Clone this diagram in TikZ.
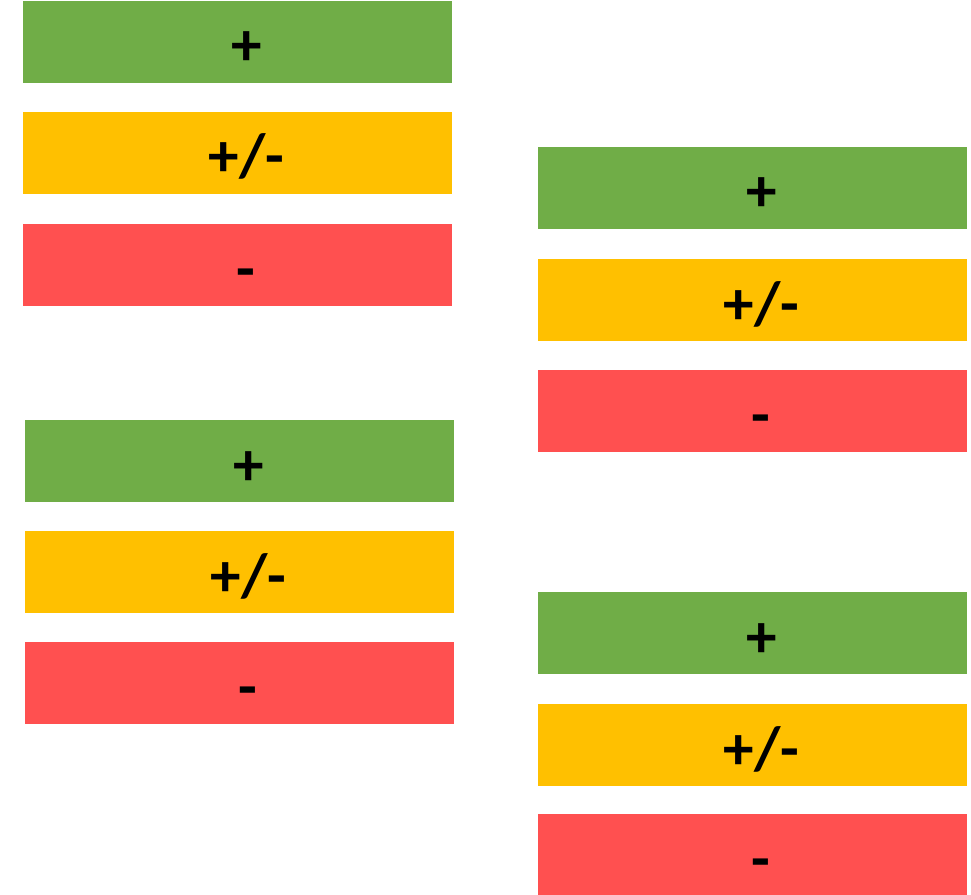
\documentclass[tikz,border=0pt]{standalone}
\usepackage{fontspec}
\setmainfont{Carlito}
\usepackage{tikz}
\usetikzlibrary{positioning}
\definecolor{goodgreen}{HTML}{70AD47}
\definecolor{midyellow}{HTML}{FFC000}
\definecolor{badred}{HTML}{FF5050}
\tikzset{
  bar/.style = {rectangle, inner sep=0pt, minimum width=10.725cm,
    minimum height=2.05cm},
  bar_g/.style = {bar, fill=goodgreen},% plus
  bar_y/.style = {bar, fill=midyellow},% plus/minus
  bar_r/.style = {bar, fill=badred},% minus
  sign/.style = {anchor=base, inner sep=0pt,
    font=\fontsize{43.5}{52}\selectfont\bfseries}
}

\begin{document}
\begin{tikzpicture}
\useasboundingbox (0,0) rectangle (24.275,-22.375);

% top left
\node [bar_g] (g1) at (5.9375,-1.05) {};
\node [bar_y] (y1) at (5.9375,-3.825) {};
\node [bar_r] (r1) at (5.9375,-6.625) {};
% top right
\node [bar_g] (g2) at (18.8125,-4.7) {};
\node [bar_y] (y2) at (18.8125,-7.5) {};
\node [bar_r] (r2) at (18.8125,-10.275) {};
% bottom left
\node [bar_g] (g3) at (5.9875,-11.525) {};
\node [bar_y] (y3) at (5.9875,-14.3) {};
\node [bar_r] (r3) at (5.9875,-17.075) {};
% bottom right
\node [bar_g] (g4) at (18.8125,-15.825) {};
\node [bar_y] (y4) at (18.8125,-18.625) {};
\node [bar_r] (r4) at (18.8125,-21.375) {};

\node [sign] (sg1) at ([xshift=0.22cm,yshift=-0.6cm]g1) {+};
\node [sign] (sy1) at ([xshift=0.22cm,yshift=-0.6cm]y1) {+/-};
\node [sign] (sr1) at ([xshift=0.22cm,yshift=-0.6cm]r1) {-};
\node [sign] (sg2) at ([xshift=0.22cm,yshift=-0.6cm]g2) {+};
\node [sign] (sy2) at ([xshift=0.22cm,yshift=-0.6cm]y2) {+/-};
\node [sign] (sr2) at ([xshift=0.22cm,yshift=-0.6cm]r2) {-};
\node [sign] (sg3) at ([xshift=0.22cm,yshift=-0.6cm]g3) {+};
\node [sign] (sy3) at ([xshift=0.22cm,yshift=-0.6cm]y3) {+/-};
\node [sign] (sr3) at ([xshift=0.22cm,yshift=-0.6cm]r3) {-};
\node [sign] (sg4) at ([xshift=0.22cm,yshift=-0.6cm]g4) {+};
\node [sign] (sy4) at ([xshift=0.22cm,yshift=-0.6cm]y4) {+/-};
\node [sign] (sr4) at ([xshift=0.22cm,yshift=-0.6cm]r4) {-};
\end{tikzpicture}
\end{document}
